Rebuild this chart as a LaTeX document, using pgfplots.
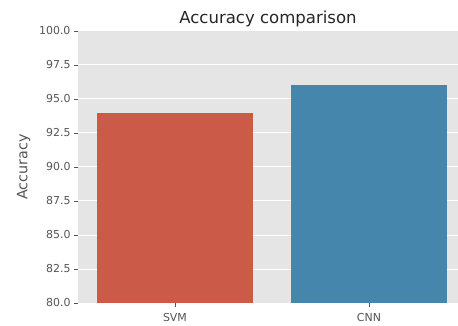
\documentclass[border=0pt]{standalone}
\usepackage{pgfplots}
\pgfplotsset{compat=1.18}
\usepackage{fontspec}
\setmainfont{DejaVu Sans}
\definecolor{bg}{HTML}{E5E5E5}
\definecolor{svm}{HTML}{CC5A49}
\definecolor{cnn}{HTML}{4586AC}
\definecolor{tk}{HTML}{555555}
\begin{document}
\begin{tikzpicture}
\begin{axis}[
 name=ax,
 scale only axis, width=380bp, height=272bp,
 xmin=-0.5, xmax=1.459, ymin=80, ymax=100,
 ytick={80,82.5,85,87.5,90,92.5,95,97.5,100},
 yticklabels={80.0,82.5,85.0,87.5,90.0,92.5,95.0,97.5,100.0},
 xtick={0,1}, xticklabels={SVM,CNN},
 axis background/.style={fill=bg},
 axis line style={draw=none},
 ymajorgrids, grid style={white, line width=1bp},
 tick style={tk, line width=0.8bp}, tick align=outside, major tick length=4bp,
 xtick pos=bottom, ytick pos=left,
 ticklabel style={font=\fontsize{11}{13}\selectfont, text=tk},
 xticklabel style={yshift=-3bp},
 ylabel={Accuracy}, ylabel style={font=\fontsize{14.3}{17}\selectfont, text=tk},
 ylabel shift=2bp,
 title={Accuracy comparison}, title style={font=\fontsize{16.6}{20}\selectfont, text=black!85, yshift=-5bp},
 ybar, bar width=0.8, bar shift=0pt,
 clip=true,
]
\addplot[fill=svm, draw=none] coordinates {(0,94.0)};
\addplot[fill=cnn, draw=none] coordinates {(1,96.05)};
\end{axis}
\pgfresetboundingbox
\path (ax.south west) ++(-78bp,-23bp) rectangle ([yshift=31bp]ax.north east);
\end{tikzpicture}
\end{document}
